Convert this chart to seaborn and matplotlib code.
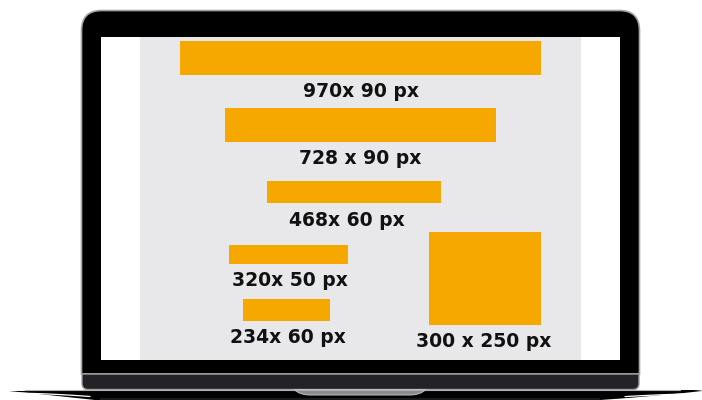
import matplotlib
matplotlib.use("Agg")
import matplotlib.pyplot as plt
import numpy as np
import seaborn as sns
from matplotlib.path import Path
from matplotlib.patches import PathPatch, Rectangle

# banner sizes (px) and their labels
banner_w = [970, 728, 468, 320, 234, 300]
banner_h = [90, 90, 60, 50, 60, 250]
labels = ["970x 90 px", "728 x 90 px", "468x 60 px",
          "320x 50 px", "234x 60 px", "300 x 250 px"]

# layout of the banners on the screen (banner units, top-left origin)
center_x = [593, 593, 575, 400, 394, 927]
top_y = [11, 191, 387, 559, 704, 524]
label_dx = [0, 0, -5, 0.5, 1, -0.5]  # points

ORANGE = "#f7a800"
PANEL = "#e8e8ea"
SCALE = 0.372  # screen px per banner px


def rounded_rect(x0, y0, x1, y1, rt, rb):
    verts = [(x0 + rt, y0), (x1 - rt, y0), (x1, y0), (x1, y0 + rt),
             (x1, y1 - rb), (x1, y1), (x1 - rb, y1),
             (x0 + rb, y1), (x0, y1), (x0, y1 - rb),
             (x0, y0 + rt), (x0, y0), (x0 + rt, y0), (x0 + rt, y0)]
    codes = [Path.MOVETO, Path.LINETO, Path.CURVE3, Path.CURVE3,
             Path.LINETO, Path.CURVE3, Path.CURVE3,
             Path.LINETO, Path.CURVE3, Path.CURVE3,
             Path.LINETO, Path.CURVE3, Path.CURVE3, Path.CLOSEPOLY]
    return Path(verts, codes)


def draw_laptop(ax):
    # lid and bezel
    ax.add_patch(PathPatch(rounded_rect(81.5, 10.5, 639.5, 374, 20, 0),
                           facecolor="black", edgecolor="#a5a5a5", lw=1.2))
    ax.add_patch(Rectangle((101, 37), 519, 323, facecolor="white", lw=0))
    # bottom strip of the lid
    ax.add_patch(PathPatch(rounded_rect(82, 374, 639, 389.5, 0, 6),
                           facecolor="#222227", edgecolor="#a0a0a0", lw=1))
    # base
    base = Path([(9, 391), (690, 390), (702, 390), (702, 391),
                 (660, 396), (600, 400), (600, 401), (95, 401),
                 (95, 400), (40, 394), (9, 391), (9, 391)],
                [Path.MOVETO, Path.LINETO, Path.CURVE3, Path.CURVE3,
                 Path.CURVE3, Path.CURVE3, Path.LINETO, Path.LINETO,
                 Path.LINETO, Path.CURVE3, Path.CURVE3, Path.CLOSEPOLY])
    ax.add_patch(PathPatch(base, facecolor="black", lw=0))
    ax.add_patch(Rectangle((100, 397.5), 500, 3, facecolor="#1c1c20", lw=0))
    ax.plot([25, 680], [390.2, 390.2], color="#b0b0b0", lw=0.8)
    # highlight slivers in the base
    t = np.linspace(0, 1, 30)
    ax.plot(18 + 72 * t, 393.2 + 3.3 * t ** 1.6, color="white", lw=0.9)
    ax.plot(700 - 75 * t, 393.8 + 2.8 * t ** 1.6, color="white", lw=0.9)
    # hinge notch
    notch = Path([(294, 389.5), (426, 389.5), (420, 395), (410, 395),
                  (310, 395), (300, 395), (294, 389.5), (294, 389.5)],
                 [Path.MOVETO, Path.LINETO, Path.CURVE3, Path.CURVE3,
                  Path.LINETO, Path.CURVE3, Path.CURVE3, Path.CLOSEPOLY])
    ax.add_patch(PathPatch(notch, facecolor="#8c8c8c", edgecolor="#c0c0c0",
                           lw=0.7))


def main():
    sns.set_theme(style="white")
    plt.rcParams["font.family"] = ["DejaVu Sans"]

    fig = plt.figure(figsize=(7.02, 4), dpi=100)
    fig.patch.set_facecolor("white")

    frame_ax = fig.add_axes([0, 0, 1, 1])
    frame_ax.set_xlim(0, 702)
    frame_ax.set_ylim(400, 0)
    frame_ax.set_axis_off()
    draw_laptop(frame_ax)

    # screen content, drawn in banner units
    ax = fig.add_axes([140 / 702, 40 / 400, 441 / 702, 323 / 400])
    ax.set_facecolor(PANEL)
    ax.set_xlim(0, 441 / SCALE)
    ax.set_ylim(323 / SCALE, 0)
    ax.set_xticks([])
    ax.set_yticks([])
    sns.despine(ax=ax, left=True, bottom=True)

    ax.bar(center_x, banner_h, width=banner_w, bottom=top_y,
           color=ORANGE, linewidth=0)

    for cx, ty, h, lab, dx in zip(center_x, top_y, banner_h, labels,
                                  label_dx):
        ax.annotate(lab, (cx, ty + h), xytext=(dx, -5.2),
                    textcoords="offset points", ha="center", va="top",
                    fontsize=13.5, fontweight="bold", color="#111111")

    fig.savefig("out.png", dpi=100, facecolor="white")


if __name__ == "__main__":
    main()
